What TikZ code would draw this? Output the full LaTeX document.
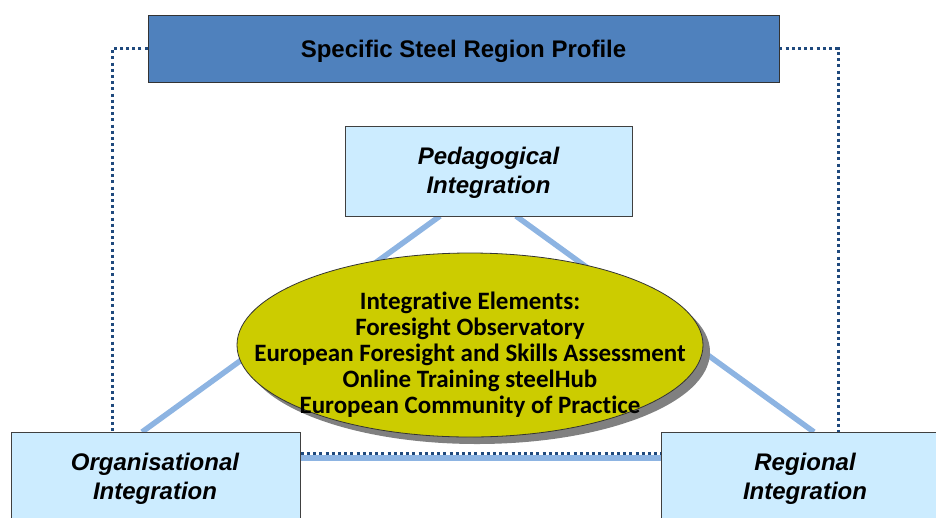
\documentclass[tikz,border=0pt]{standalone}
\usepackage{fontspec}
\setmainfont{Liberation Sans}
\newfontfamily\elemfont[Ligatures=NoCommon]{Carlito}
\usetikzlibrary{backgrounds}
\definecolor{profileblue}{RGB}{79,129,189}
\definecolor{boxblue}{RGB}{204,236,255}
\definecolor{linkblue}{RGB}{141,180,226}
\definecolor{dotblue}{RGB}{31,73,125}
\definecolor{elemyellow}{RGB}{204,204,0}
\begin{document}
\begin{tikzpicture}[x=1pt,y=-1pt,
  area/.style={draw=black!75,line width=.8pt,fill=boxblue,align=center,
    font=\fontsize{24}{29}\selectfont\bfseries\itshape},
  link/.style={linkblue,line width=5.5pt},
  frame/.style={dotblue,line width=3pt,dash pattern=on 3pt off 3.2pt}]
\useasboundingbox (0,0) rectangle (936,517);
\clip (0,0) rectangle (936,517);
% profile bar on top
\node[draw=black!80,line width=.8pt,fill=profileblue,minimum width=631pt,minimum height=67pt,
  font=\fontsize{24}{28}\selectfont\bfseries,text depth=0pt] (profile) at (463.5,48.5) {Specific Steel Region Profile};
% the three integration boxes
\node[area,minimum width=287pt,minimum height=90pt] (ped) at (488.5,171) {};
\node[font=\fontsize{24}{29}\selectfont\bfseries\itshape,align=center] (pedtxt) at (488.5,173) {Pedagogical\\Integration};
\node[area,minimum width=289pt,minimum height=120pt,anchor=north west] (org) at (11,432) {};
\node[area,minimum width=300pt,minimum height=120pt,anchor=north west] (reg) at (661,432) {};
\node[font=\fontsize{24}{29}\selectfont\bfseries\itshape,align=center] (orgtxt) at (155,479) {Organisational\\Integration};
\node[font=\fontsize{24}{29}\selectfont\bfseries\itshape,align=center] (regtxt) at (805,479) {Regional\\Integration};
% integrative elements
\fill[black!50] (477,352) ellipse [x radius=233pt,y radius=92pt];
\draw[black!80,line width=.8pt,fill=elemyellow] (470,345) ellipse [x radius=233pt,y radius=92pt];
\node[align=center,font=\elemfont\fontsize{25}{26}\selectfont\bfseries] (elem) at (470,355)
  {Integrative Elements:\\Foresight Observatory\\European Foresight and Skills Assessment\\Online Training steelHub\\European Community of Practice};
% triangle and dotted frame behind
\begin{pgfonlayer}{background}
\coordinate (pl) at (440,216);
\coordinate (pr) at (516,216);
\coordinate (ot) at (142,432);
\coordinate (rt) at (814,432);
\draw[link] (pl)--(ot);
\draw[link] (pr)--(rt);
\draw[link] (org.east|-0,458)--(reg.west|-0,458);
\draw[frame] (profile.west)--(112,48.5)--(112,432);
\draw[frame] (profile.east)--(838,48.5)--(838,432);
\draw[frame] (org.east|-0,453)--(reg.west|-0,453);
\end{pgfonlayer}
\end{tikzpicture}
\end{document}
